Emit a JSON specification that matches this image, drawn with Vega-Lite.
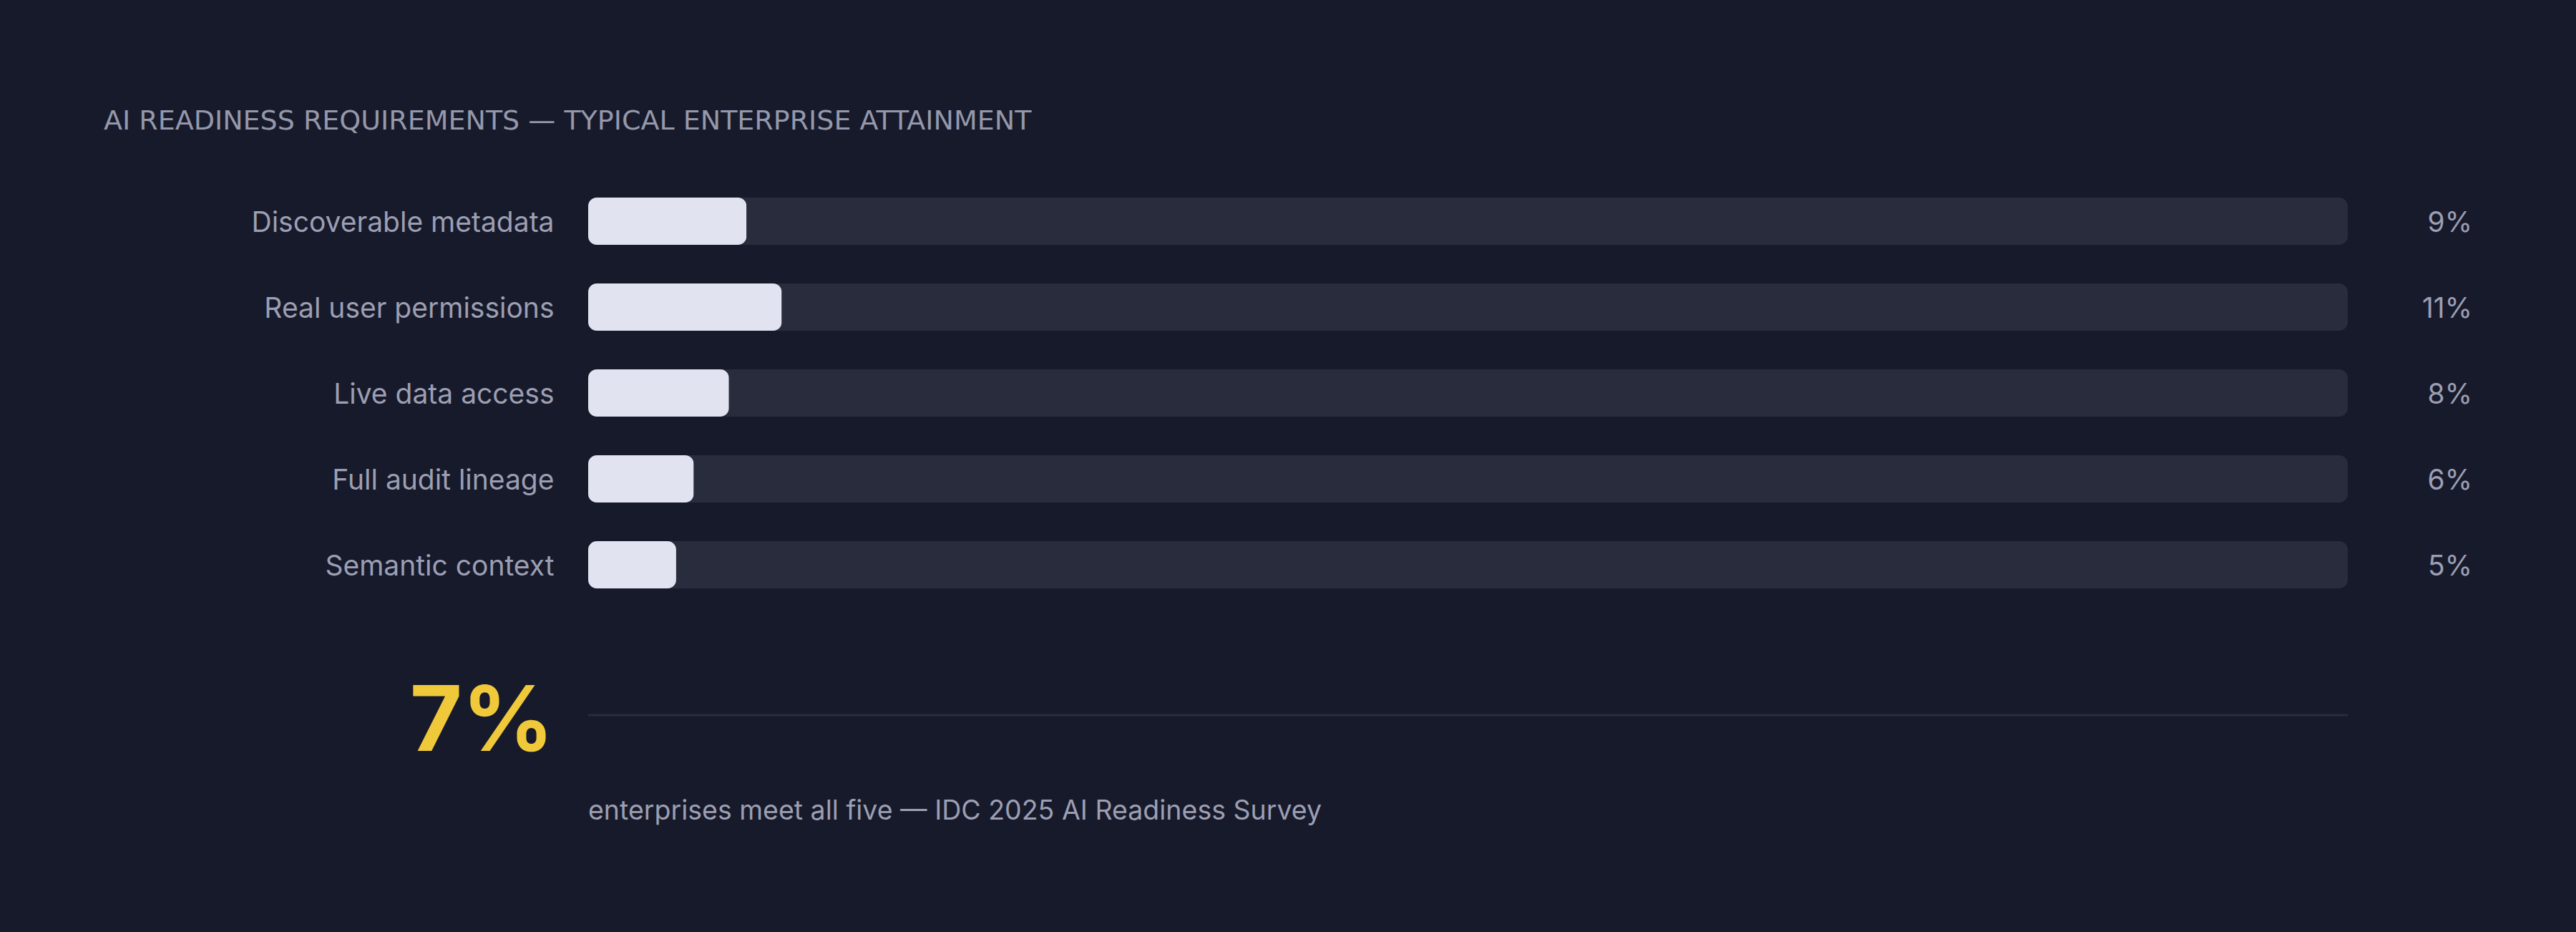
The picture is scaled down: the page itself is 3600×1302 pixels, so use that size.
{
  "$schema": "https://vega.github.io/schema/vega-lite/v6.json",
  "description": "AI readiness requirements - share of enterprises meeting each one.",
  "autosize": {"type": "none"},
  "width": 2459,
  "height": 720,
  "padding": {"left": 822, "top": 249, "right": 319, "bottom": 333},
  "background": "#171a2a",
  "title": {
    "text": "AI READINESS REQUIREMENTS — TYPICAL ENTERPRISE ATTAINMENT",
    "anchor": "start",
    "frame": "group",
    "dx": -677,
    "offset": 30,
    "baseline": "alphabetic",
    "font": "DejaVu Sans",
    "fontSize": 38,
    "fontWeight": 400,
    "color": "#9598ab"
  },
  "datasets": {
    "requirements": [
      {"label": "Discoverable metadata", "value": 0.09},
      {"label": "Real user permissions", "value": 0.11},
      {"label": "Live data access", "value": 0.08},
      {"label": "Full audit lineage", "value": 0.06},
      {"label": "Semantic context", "value": 0.05}
    ],
    "summary": [
      {"label": "All five", "value": 0.07, "note": "enterprises meet all five — IDC 2025 AI Readiness Survey"}
    ]
  },
  "config": {
    "view": {"stroke": null},
    "font": "Inter"
  },
  "layer": [
    {
      "data": {"name": "requirements"},
      "mark": {"type": "bar", "color": "#292c3d", "cornerRadius": 12, "height": {"band": 0.55}},
      "encoding": {
        "y": {
          "field": "label",
          "type": "nominal",
          "sort": null,
          "scale": {
            "domain": ["Discoverable metadata", "Real user permissions", "Live data access", "Full audit lineage", "Semantic context", "All five"],
            "paddingInner": 0,
            "paddingOuter": 0
          },
          "axis": {
            "title": null,
            "domain": false,
            "ticks": false,
            "grid": false,
            "labelExpr": "datum.value == 'All five' ? '' : datum.value",
            "labelFont": "Inter",
            "labelFontSize": 39,
            "labelColor": "#9c9fb3",
            "labelPadding": 48,
            "labelOffset": 3,
            "labelLimit": 800
          }
        },
        "x": {"datum": 0, "type": "quantitative", "scale": {"domain": [0, 1], "nice": false, "zero": true}, "axis": null},
        "x2": {"datum": 1}
      }
    },
    {
      "data": {"name": "requirements"},
      "mark": {"type": "bar", "color": "#e1e4f0", "cornerRadius": 12, "height": {"band": 0.55}},
      "encoding": {
        "y": {"field": "label", "type": "nominal", "sort": null},
        "x": {"field": "value", "type": "quantitative"}
      }
    },
    {
      "data": {"name": "requirements"},
      "mark": {"type": "text", "align": "right", "baseline": "middle", "dx": 174, "dy": 3, "fontSize": 39, "color": "#9c9fb3", "font": "Inter"},
      "encoding": {
        "y": {"field": "label", "type": "nominal", "sort": null},
        "x": {"datum": 1, "type": "quantitative"},
        "text": {"field": "value", "type": "quantitative", "format": ".0%"}
      }
    },
    {
      "data": {"name": "summary"},
      "mark": {"type": "rule", "color": "#2a2d3e", "strokeWidth": 3, "yOffset": 90},
      "encoding": {
        "y": {"field": "label", "type": "nominal", "sort": null},
        "x": {"datum": 0, "type": "quantitative"},
        "x2": {"datum": 1}
      }
    },
    {
      "data": {"name": "summary"},
      "mark": {"type": "text", "align": "right", "baseline": "alphabetic", "dx": -48, "dy": 140, "fontSize": 126, "fontWeight": 700, "color": "#f0c93a", "font": "Inter"},
      "encoding": {
        "y": {"field": "label", "type": "nominal", "sort": null},
        "x": {"datum": 0, "type": "quantitative"},
        "text": {"field": "value", "type": "quantitative", "format": ".0%"}
      }
    },
    {
      "data": {"name": "summary"},
      "mark": {"type": "text", "align": "left", "baseline": "alphabetic", "dy": 236, "fontSize": 37.5, "color": "#9c9fb3", "font": "Inter"},
      "encoding": {
        "y": {"field": "label", "type": "nominal", "sort": null},
        "x": {"datum": 0, "type": "quantitative"},
        "text": {"field": "note", "type": "nominal"}
      }
    }
  ]
}
